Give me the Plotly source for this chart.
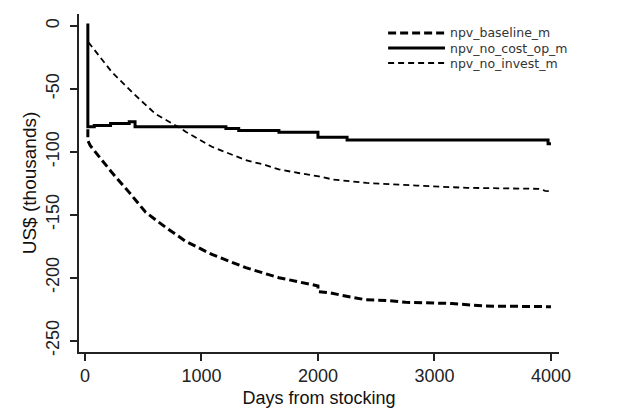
import plotly.graph_objects as go

# ---- data (values in US$ thousands) ----
series_names = ["npv_baseline_m", "npv_no_cost_op_m", "npv_no_invest_m"]

baseline_days = [25, 25, 45, 232, 378, 521, 693, 864, 1090, 1380, 1665, 1950, 2000, 2000,
                 2100, 2290, 2410, 2580, 2753, 3150, 3440, 4000]
baseline_vals = [-82, -91, -95, -116.5, -132, -148, -160, -171, -181.5, -192, -200, -205.5,
                 -206.5, -211, -212, -215.5, -217.5, -218, -219.5, -220.5, -222.5, -223]

nocost_days = [25, 25, 80, 220, 380, 430, 1210, 1320, 1665, 2000, 2250, 3975, 4000]
nocost_vals = [2, -80, -79, -77.5, -76, -80, -81.5, -83, -84.5, -88.5, -90.5, -93.5, -93.5]

noinv_days = [30, 230, 420, 607, 807, 864, 1090, 1236, 1379, 1551, 1665, 1845, 2009, 2130,
              2418, 2848, 3277, 3906, 3950, 4000]
noinv_vals = [-13, -36.5, -54, -70, -80.5, -84, -96, -101, -106.5, -110.5, -114, -117, -119.5,
              -122, -124.7, -126.8, -128.6, -129.4, -131, -131.3]

x_ticks = [0, 1000, 2000, 3000, 4000]
y_ticks = [0, -50, -100, -150, -200, -250]

styles = [
    dict(color="black", width=3, dash="8px,4px"),
    dict(color="black", width=3, dash="solid"),
    dict(color="black", width=1.8, dash="6px,4px"),
]

fig = go.Figure()
fig.add_trace(go.Scatter(x=baseline_days, y=baseline_vals, mode="lines", name=series_names[0],
                         line=styles[0], showlegend=False))
fig.add_trace(go.Scatter(x=nocost_days, y=nocost_vals, mode="lines", name=series_names[1],
                         line=dict(**styles[1], shape="hv"), showlegend=False))
fig.add_trace(go.Scatter(x=noinv_days, y=noinv_vals, mode="lines", name=series_names[2],
                         line=styles[2], showlegend=False))

# manual legend (Stata-like, inside top-right)
leg_rows = [0.9438, 0.8994, 0.855]
for name, st, yy in zip(series_names, styles, leg_rows):
    fig.add_shape(type="line", xref="paper", yref="paper", x0=0.644, x1=0.7625, y0=yy, y1=yy,
                  line=dict(color=st["color"], width=st["width"], dash=st["dash"]))
    fig.add_annotation(xref="paper", yref="paper", x=0.769, y=yy, text=name, showarrow=False,
                       xanchor="left", yanchor="middle",
                       font=dict(family="DejaVu Sans", size=12.5, color="#333"))

axis_common = dict(showgrid=False, zeroline=False, showline=True, linecolor="#222", linewidth=1.5,
                   ticks="outside", ticklen=7, tickwidth=1.5, tickcolor="#222",
                   tickfont=dict(family="Liberation Sans", size=18, color="#222"))

fig.update_layout(
    width=636, height=417,
    margin=dict(l=79, r=77, t=14, b=65),
    paper_bgcolor="white", plot_bgcolor="white",
    xaxis=dict(range=[-51, 4069], tickvals=x_ticks, ticktext=[str(v) for v in x_ticks],
               title=dict(text="Days from stocking", standoff=6,
                          font=dict(family="Liberation Sans", size=18, color="#111")),
               **axis_common),
    yaxis=dict(range=[-259, 9.5], tickvals=y_ticks, ticktext=[str(v) for v in y_ticks],
               tickangle=-90, ticklabelstandoff=4,
               title=dict(text="US$ (thousands)", standoff=1,
                          font=dict(family="Liberation Sans", size=19, color="#111")),
               **axis_common),
)

fig.write_html("out.html")
